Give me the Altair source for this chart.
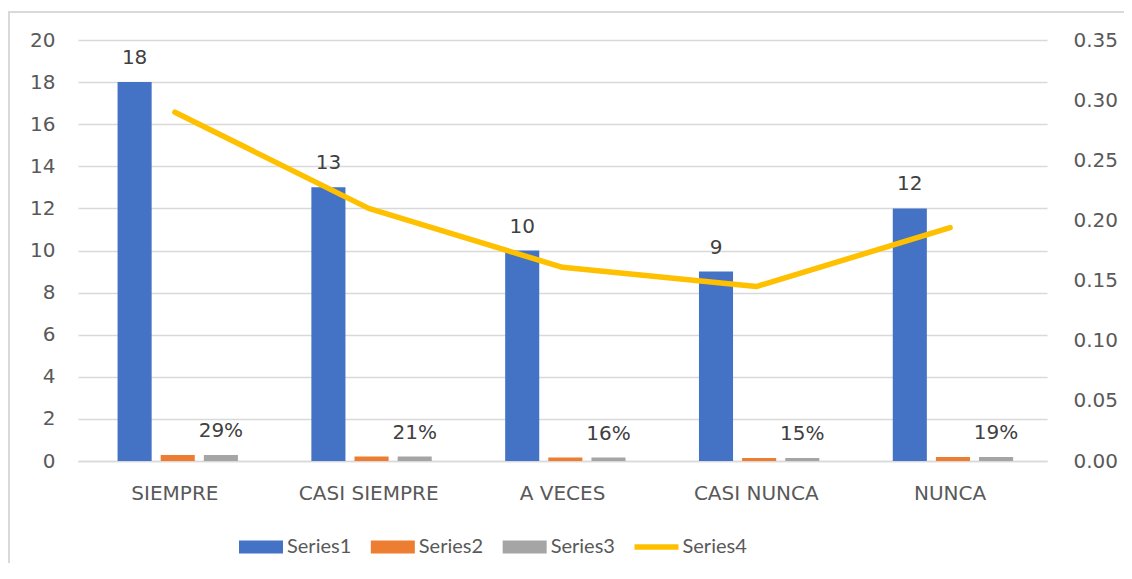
import altair as alt
import pandas as pd

categories = ["SIEMPRE", "CASI SIEMPRE", "A VECES", "CASI NUNCA", "NUNCA"]
series1 = [18, 13, 10, 9, 12]
series2 = [0.29, 0.21, 0.161, 0.145, 0.194]
series3 = [0.29, 0.21, 0.161, 0.145, 0.194]
series4 = [0.29, 0.21, 0.161, 0.145, 0.194]
count_labels = ["18", "13", "10", "9", "12"]
pct_labels = ["29%", "21%", "16%", "15%", "19%"]
series_names = ["Series1", "Series2", "Series3", "Series4"]
series_colors = ["#4472C4", "#ED7D31", "#A5A5A5", "#FFC000"]
left_ticks = [0, 2, 4, 6, 8, 10, 12, 14, 16, 18, 20]
right_ticks = [0, 0.05, 0.10, 0.15, 0.20, 0.25, 0.30, 0.35]

bar_series = series_names[:3]
bars_df = pd.DataFrame(
    [{"cat": c, "series": s, "value": v}
     for s, vals in zip(bar_series, [series1, series2, series3])
     for c, v in zip(categories, vals)]
)
labels_df = pd.DataFrame(
    [{"cat": c, "series": "Series1", "value": v, "label": l}
     for c, v, l in zip(categories, series1, count_labels)]
    + [{"cat": c, "series": "Series3", "value": v, "label": l}
       for c, v, l in zip(categories, series3, pct_labels)]
)
line_df = pd.DataFrame({"cat": categories, "series": "Series4", "value": series4})
legend_df = pd.DataFrame({"series": series_names, "row": "legend"})

AXIS_FONT = "DejaVu Sans"
LABEL_COLOR = "#595959"
GRID = "#D9D9D9"

x_scale = alt.Scale(domain=categories, paddingInner=0.33, paddingOuter=0.165)
xoff_scale = alt.Scale(domain=bar_series, paddingInner=0.21, paddingOuter=0.11, align=0.8)
color_scale = alt.Scale(domain=series_names, range=series_colors)
rect_path = "M-1,-0.3H1V0.3H-1Z"
line_path = "M-1,-0.12H1V0.12H-1Z"
shape_scale = alt.Scale(domain=series_names, range=[rect_path, rect_path, rect_path, line_path])

# legend layout scales (pixel ranges relative to the plot area)
legend_x_scale = alt.Scale(type="point", domain=series_names, range=[183, 578.5], padding=0)
legend_y_scale = alt.Scale(type="point", domain=["legend"], range=[507, 507], padding=0)

x_axis = alt.Axis(title=None, labelAngle=0, labelFont=AXIS_FONT, labelFontSize=20,
                  labelColor=LABEL_COLOR, labelPadding=22, ticks=False,
                  domain=True, domainColor=GRID, domainWidth=1.5)
left_axis = alt.Axis(title=None, values=left_ticks, labelFont=AXIS_FONT, labelFontSize=20,
                     labelColor=LABEL_COLOR, labelPadding=23, ticks=False, domain=False,
                     grid=True, gridColor=GRID, gridWidth=1.5, orient="left")
right_axis = alt.Axis(title=None, values=right_ticks, format=".2f", labelFont=AXIS_FONT,
                      labelFontSize=20, labelColor=LABEL_COLOR, labelPadding=26,
                      ticks=False, domain=False, grid=False, orient="right")

y_left = alt.Scale(domain=[0, 20], nice=False)
y_right = alt.Scale(domain=[0, 0.35], nice=False)

frame = alt.Chart(alt.Data(values=[{"f": 1}])).mark_rect(
    fill="white", fillOpacity=0, stroke=GRID, strokeWidth=2
).encode(x=alt.value(-69), x2=alt.value(1100), y=alt.value(-28), y2=alt.value(600))

bars = alt.Chart(bars_df).mark_bar().encode(
    x=alt.X("cat:N", sort=categories, scale=x_scale, axis=x_axis),
    xOffset=alt.XOffset("series:N", scale=xoff_scale),
    y=alt.Y("value:Q", scale=y_left, axis=left_axis),
    fill=alt.Fill("series:N", scale=color_scale, legend=None),
)

texts = alt.Chart(labels_df).mark_text(
    font=AXIS_FONT, fontSize=20, color="#404040", dy=-18, baseline="alphabetic", align="center"
).encode(
    x=alt.X("cat:N", sort=categories, scale=x_scale, axis=x_axis),
    xOffset=alt.XOffset("series:N", scale=xoff_scale),
    y=alt.Y("value:Q", scale=y_left, axis=left_axis),
    text="label:N",
)

left_group = alt.layer(frame, bars, texts)

line = alt.Chart(line_df).mark_line(
    color="#FFC000", strokeWidth=5.5, strokeCap="round", strokeJoin="round"
).encode(
    x=alt.X("cat:N", sort=categories, scale=x_scale, axis=None),
    y=alt.Y("value:Q", scale=y_right, axis=right_axis),
)

legend_symbols = alt.Chart(legend_df).mark_point(filled=True, size=1936, opacity=1).encode(
    x=alt.X("series:N", scale=legend_x_scale, axis=None),
    y=alt.Y("row:N", scale=legend_y_scale, axis=None),
    color=alt.Color("series:N", scale=color_scale, legend=None),
    shape=alt.Shape("series:N", scale=shape_scale, legend=None),
)
legend_labels = alt.Chart(legend_df).mark_text(
    font="Lato", fontSize=20, color=LABEL_COLOR, align="left", baseline="middle", dx=26
).encode(
    x=alt.X("series:N", scale=legend_x_scale, axis=None),
    y=alt.Y("row:N", scale=legend_y_scale, axis=None),
    text="series:N",
)
legend_group = alt.layer(legend_symbols, legend_labels)

chart = alt.layer(left_group, line, legend_group).resolve_scale(
    x="independent", y="independent"
).properties(
    width=969, height=421,
    padding={"left": 70, "top": 32, "right": 77, "bottom": 102},
    autosize=alt.AutoSizeParams(type="none"),
).configure_view(stroke=None)

chart.save("out.html", embed_options={"renderer": "svg", "actions": False})
